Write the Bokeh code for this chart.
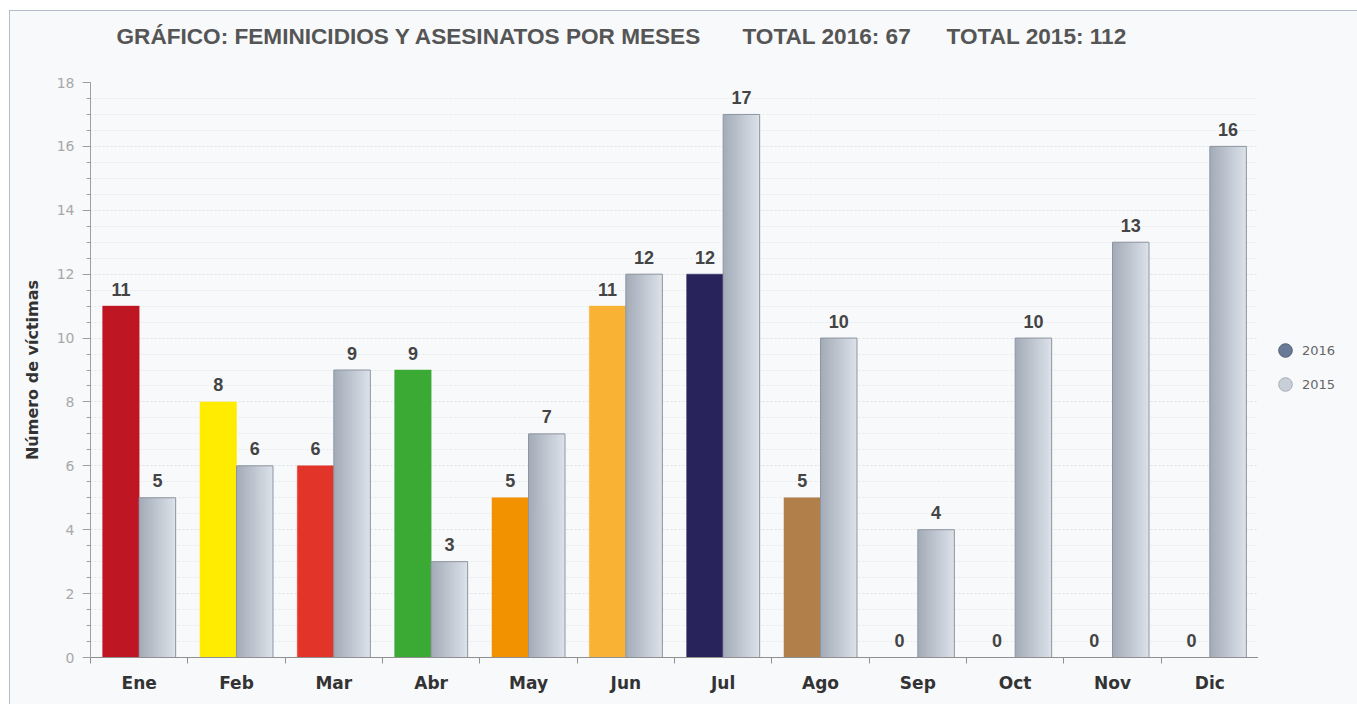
from bokeh.plotting import figure
from bokeh.layouts import row
from bokeh.models import (ColumnDataSource, Range1d, FixedTicker, Title,
                          SingleIntervalTicker, Legend, LegendItem)
from bokeh.transform import dodge
from bokeh.core.properties import value
from bokeh.embed import file_html
from bokeh.resources import INLINE

# ---- data ----
months = ["Ene", "Feb", "Mar", "Abr", "May", "Jun", "Jul", "Ago", "Sep", "Oct", "Nov", "Dic"]
v2016 = [11, 8, 6, 9, 5, 11, 12, 5, 0, 0, 0, 0]
v2015 = [5, 6, 9, 3, 7, 12, 17, 10, 4, 10, 13, 16]
colors2016 = ["#be1622", "#ffec00", "#e3342a", "#3aaa35", "#f39200", "#f9b233",
              "#29235c", "#b17f4a", "#6b7d96", "#6b7d96", "#6b7d96", "#6b7d96"]
title_parts = ["GRÁFICO: FEMINICIDIOS Y ASESINATOS POR MESES", "TOTAL 2016: 67", "TOTAL 2015: 112"]
series_names = ["2016", "2015"]

n = len(months)
centers = [i + 0.5 for i in range(n)]  # category centres on a numeric axis
src = ColumnDataSource(dict(xc=centers, month=months, v2016=v2016, v2015=v2015, c2016=colors2016,
                            l2016=[str(v) for v in v2016], l2015=[str(v) for v in v2015]))

BG = "#f8f9fb"
p = figure(width=1248, height=693, output_backend="svg", toolbar_location=None,
           x_range=Range1d(0, n), y_range=Range1d(0, 18), title=None,
           min_border_left=80, min_border_right=0, min_border_top=71, min_border_bottom=47)
p.background_fill_color = BG
p.border_fill_color = BG
p.outline_line_color = None

# spacer (closest to the frame) then the real title above it
p.add_layout(Title(text="\u00a0", text_font_size="1px", standoff=20), "above")
NB = "\u00a0"
TH = "\u2009"
main_title = Title(text=title_parts[0] + NB * 6 + TH + title_parts[1] + NB * 5 + TH + title_parts[2],
                   align="left", offset=26, vertical_align="top", standoff=18,
                   text_font="Liberation Sans, Arial, sans-serif", text_font_size="22.6px",
                   text_font_style="bold", text_color="#555555")
p.add_layout(main_title, "above")

# y axis
yax = p.yaxis[0]
yax.ticker = SingleIntervalTicker(interval=2, num_minor_ticks=4)
yax.axis_line_color = "#a0a0a0"
yax.major_tick_line_color = "#a0a0a0"
yax.minor_tick_line_color = "#a0a0a0"
yax.major_tick_out = 8
yax.major_tick_in = 0
yax.minor_tick_out = 4
yax.minor_tick_in = 0
yax.major_label_standoff = 8
yax.major_label_text_font = "DejaVu Sans"
yax.major_label_text_font_size = "14px"
yax.major_label_text_color = "#a8a8a8"
yax.axis_label = "Número de víctimas"
yax.axis_label_text_font = "DejaVu Sans"
yax.axis_label_text_font_size = "16px"
yax.axis_label_text_font_style = "bold"
yax.axis_label_text_color = "#333333"
yax.axis_label_standoff = 12

p.ygrid.ticker = SingleIntervalTicker(interval=2, num_minor_ticks=4)
p.ygrid.grid_line_color = "#e2e4e8"
p.ygrid.grid_line_dash = "2 2"
p.ygrid.minor_grid_line_color = "#e6e8ec"
p.ygrid.minor_grid_line_dash = "2 2"
p.xgrid.grid_line_color = None

# x axis: labels at category centres, ticks at category boundaries
xax = p.xaxis[0]
xax.ticker = FixedTicker(ticks=centers, minor_ticks=list(range(n + 1)))
xax.major_label_overrides = {c: m for c, m in zip(centers, months)}
xax.major_tick_line_color = None
xax.minor_tick_line_color = "#909090"
xax.minor_tick_out = 6
xax.minor_tick_in = 0
xax.axis_line_color = "#909090"
xax.major_label_standoff = 9
xax.major_label_text_font = "DejaVu Sans"
xax.major_label_text_font_size = "17px"
xax.major_label_text_font_style = "bold"
xax.major_label_text_color = "#333333"

BW = 0.375
# 2016 bars
p.vbar(x=dodge("xc", -BW / 2), top="v2016", width=BW, source=src,
       fill_color="c2016", line_color="c2016", line_width=0.5)

# 2015 bars with horizontal gradient (drawn as thin overlapping strips)
NS = 24
c0 = (0xa4, 0xac, 0xb9)
c1 = (0xdb, 0xe1, 0xe8)
ws = BW / NS
for k in range(NS):
    t = k / (NS - 1)
    col = "#%02x%02x%02x" % tuple(int(round(a + (b - a) * t)) for a, b in zip(c0, c1))
    wk = ws * 2.0 if k < NS - 1 else ws
    p.vbar(x=dodge("xc", k * ws + wk / 2), top="v2015", width=wk,
           source=src, fill_color=col, line_color=None)
p.vbar(x=dodge("xc", BW / 2), top="v2015", width=BW, source=src,
       fill_color=None, line_color="#8d95a1", line_width=1)

# value labels
lab_font = value("Liberation Sans")
p.text(x=dodge("xc", -BW / 2), y="v2016", text="l2016", source=src,
       text_align="center", text_baseline="alphabetic", y_offset=-17,
       text_font=lab_font, text_font_size="18px", text_font_style="bold", text_color="#444444")
p.text(x=dodge("xc", BW / 2), y="v2015", text="l2015", source=src,
       text_align="center", text_baseline="alphabetic", y_offset=-17,
       text_font=lab_font, text_font_size="18px", text_font_style="bold", text_color="#444444")

# legend panel on the right
lf = figure(width=99, height=693, output_backend="svg", toolbar_location=None,
            x_axis_location=None, y_axis_location=None, title=None,
            min_border_left=0, min_border_right=0, min_border_top=0, min_border_bottom=0)
lf.background_fill_color = BG
lf.border_fill_color = BG
lf.outline_line_color = None
lf.xgrid.grid_line_color = None
lf.ygrid.grid_line_color = None
nan = float("nan")
g16 = lf.scatter(x=[nan], y=[nan], marker="circle", size=15, fill_color="#687a95", line_color="#4f5f78")
g15 = lf.scatter(x=[nan], y=[nan], marker="circle", size=15, fill_color="#c9cfd8", line_color="#a5adb8")
legend = Legend(items=[LegendItem(label=series_names[0], renderers=[g16]),
                       LegendItem(label=series_names[1], renderers=[g15])],
                location=(10, 256), orientation="vertical")
legend.background_fill_alpha = 0
legend.border_line_color = None
legend.label_text_font = "DejaVu Sans"
legend.label_text_font_size = "13px"
legend.label_text_color = "#666666"
legend.glyph_width = 34
legend.glyph_height = 34
legend.spacing = 0
legend.padding = 0
legend.margin = 0
legend.label_standoff = 0
lf.add_layout(legend, "center")

layout = row(p, lf, margin=(10, 0, 0, 9),
             styles={"border-top": "1px solid #b4bdca", "border-left": "1px solid #b4bdca",
                     "background-color": BG})
open("out.html", "w").write(file_html(layout, INLINE))
